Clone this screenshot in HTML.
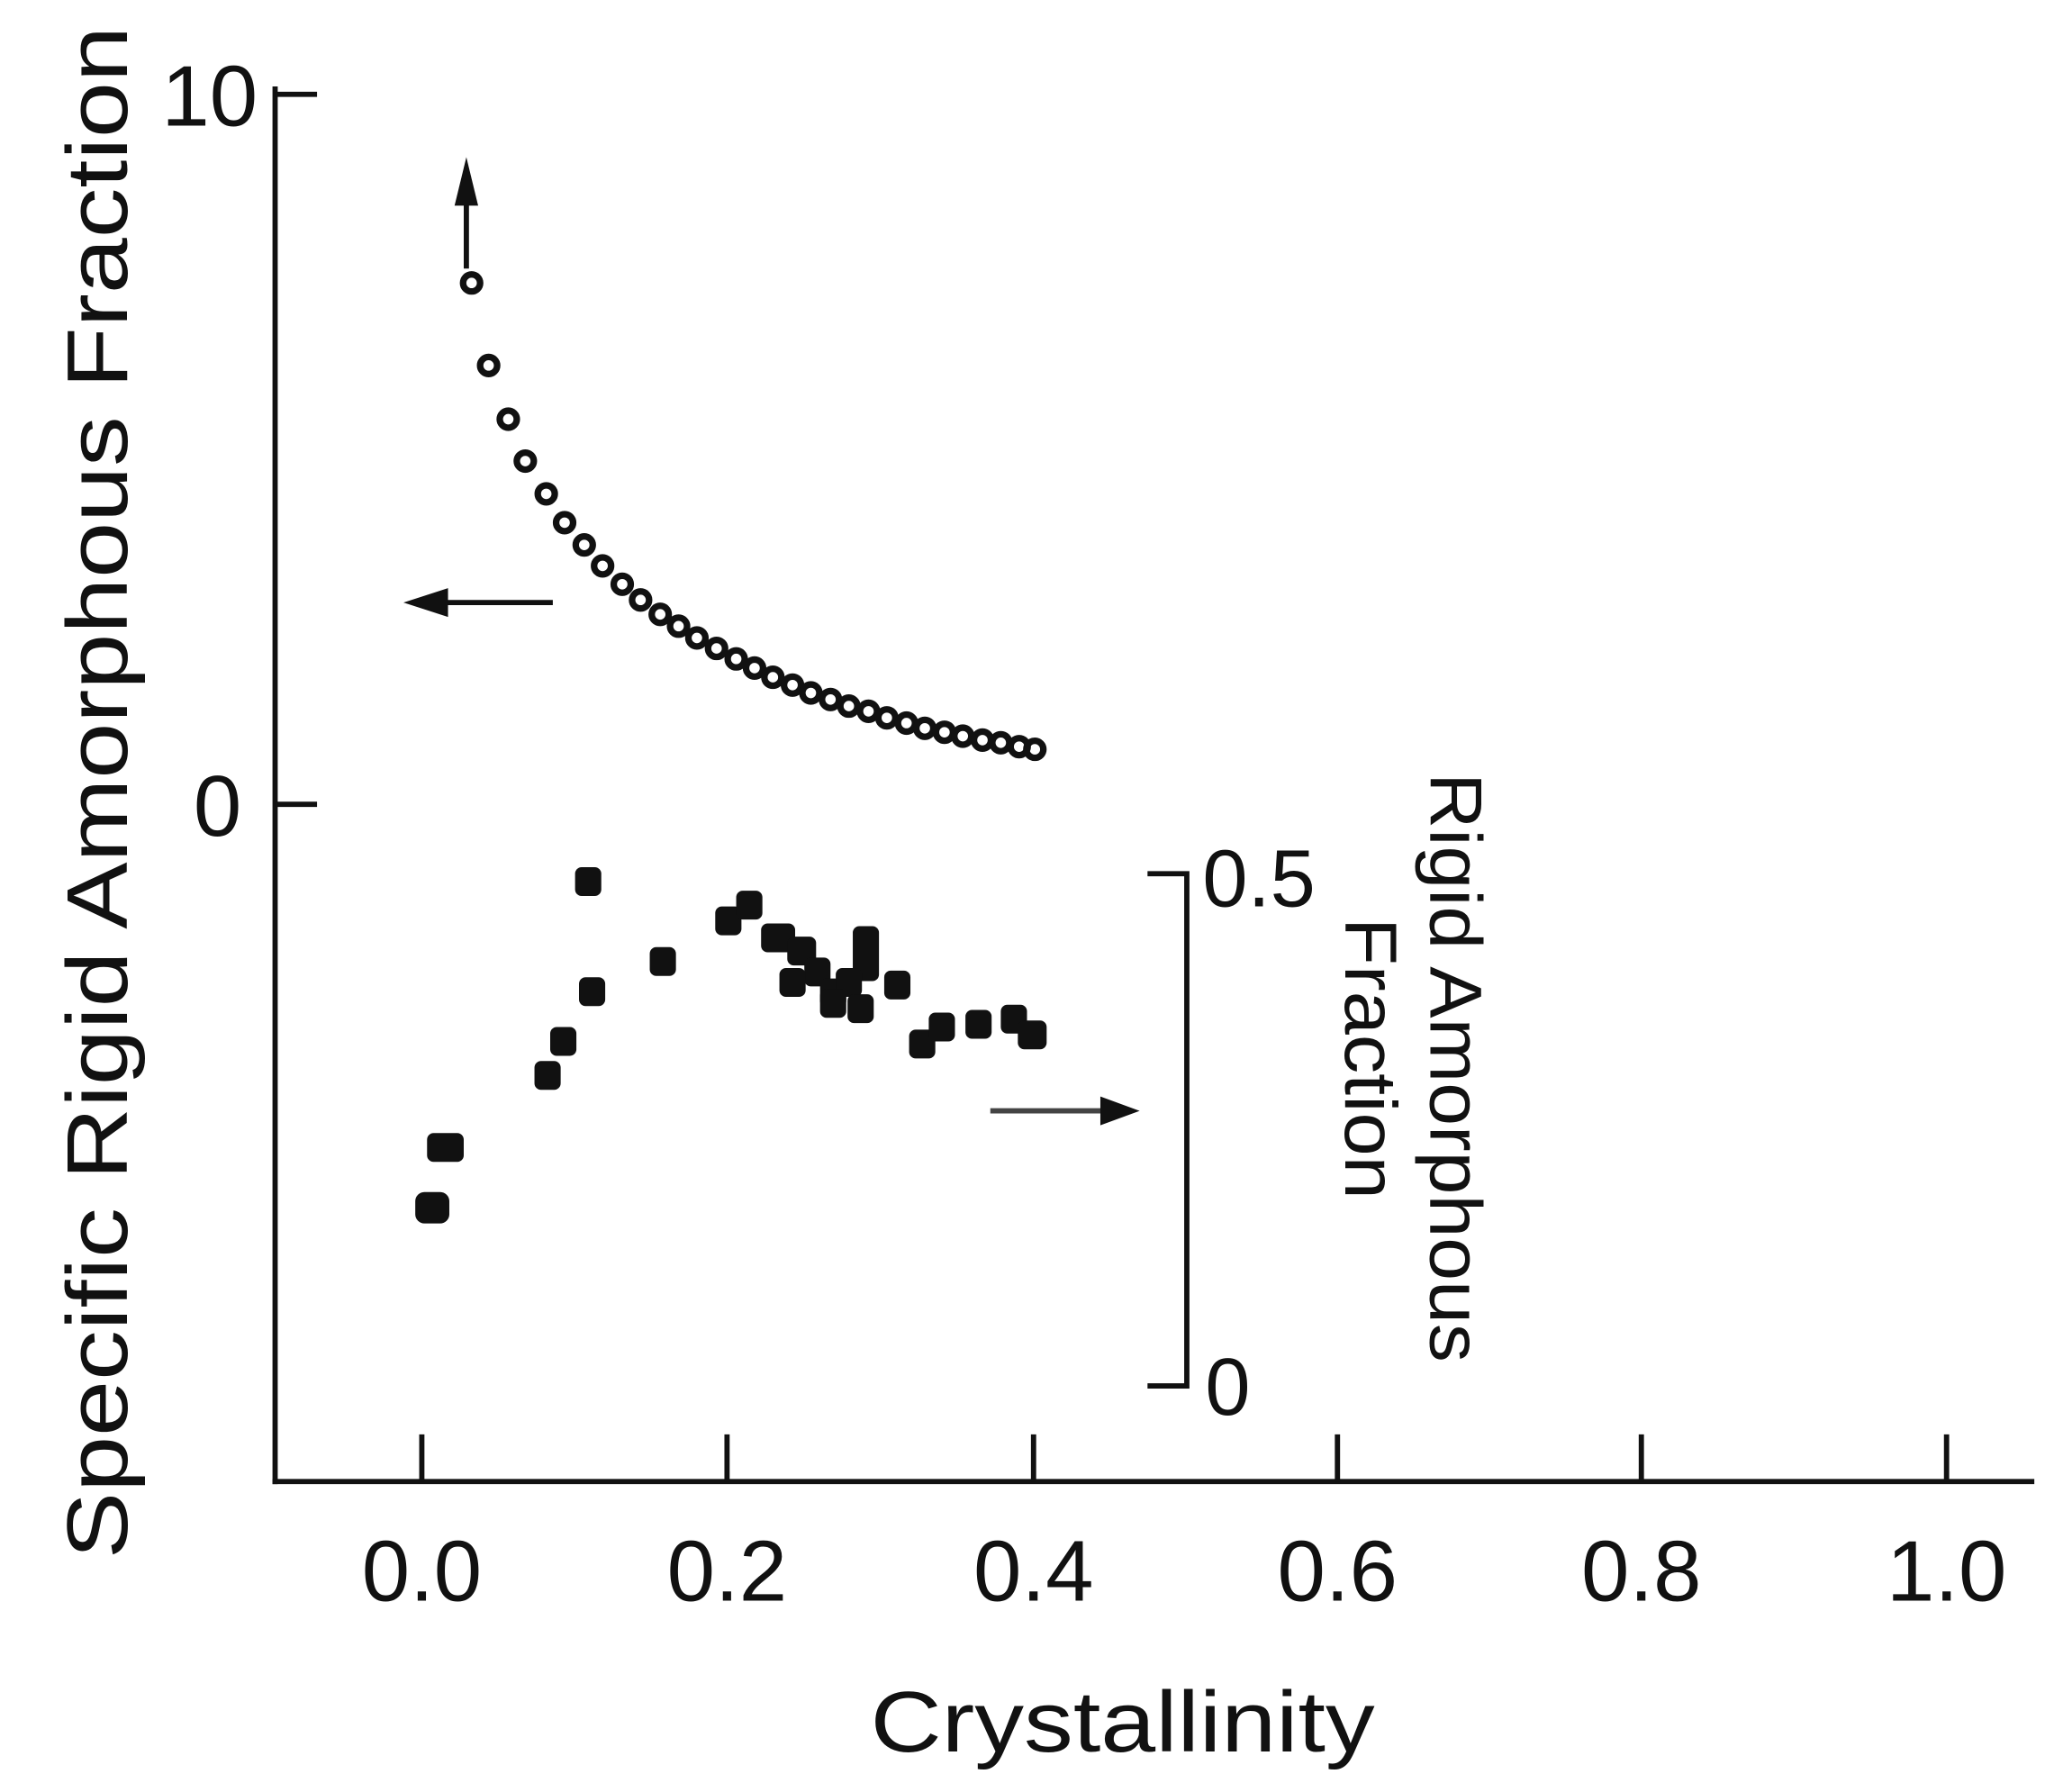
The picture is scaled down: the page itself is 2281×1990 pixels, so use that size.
<!DOCTYPE html>
<html><head><meta charset="utf-8"><style>html,body{margin:0;padding:0;background:#fff}svg{display:block}</style></head>
<body>
<svg width="2281" height="1990" viewBox="0 0 1568 1368" xmlns="http://www.w3.org/2000/svg" font-family="Liberation Sans, sans-serif" fill="#111">
<g stroke="#111" stroke-width="4" fill="none">
<line x1="210" y1="66" x2="210" y2="1133"/>
<line x1="208" y1="1131" x2="1553" y2="1131"/>
<line x1="210" y1="72" x2="242" y2="72"/>
<line x1="210" y1="614" x2="242" y2="614"/>
<line x1="322" y1="1095" x2="322" y2="1131"/>
<line x1="555" y1="1095" x2="555" y2="1131"/>
<line x1="789" y1="1095" x2="789" y2="1131"/>
<line x1="1021" y1="1095" x2="1021" y2="1131"/>
<line x1="1253" y1="1095" x2="1253" y2="1131"/>
<line x1="1486" y1="1095" x2="1486" y2="1131"/>
<polyline points="876,667 906,667 906,1058 876,1058"/>
<line x1="356" y1="205" x2="356" y2="140"/>
<line x1="422" y1="460" x2="335" y2="460"/>
<line x1="756" y1="848" x2="845" y2="848" stroke="#444"/>
</g>
<polygon points="356,120 347,157 365,157"/>
<polygon points="308,460 342,449 342,471"/>
<polygon points="870,848 840,837 840,859"/>
<g font-size="66" text-anchor="middle">
<text x="160" y="96">10</text>
<text x="166" y="638">0</text>
<text x="322" y="1222">0.0</text>
<text x="555" y="1222">0.2</text>
<text x="789" y="1222">0.4</text>
<text x="1021" y="1222">0.6</text>
<text x="1253" y="1222">0.8</text>
<text x="1486" y="1222">1.0</text>
<text x="857" y="1337" textLength="385" lengthAdjust="spacingAndGlyphs">Crystallinity</text>
<text transform="translate(97,605) rotate(-90)" textLength="1170" lengthAdjust="spacingAndGlyphs">Specific Rigid Amorphous Fraction</text>
</g>
<g font-size="62">
<text x="918" y="692">0.5</text>
<text x="920" y="1080">0</text>
</g>
<g font-size="56" text-anchor="middle">
<text transform="translate(1092,815) rotate(90)" textLength="450" lengthAdjust="spacingAndGlyphs">Rigid Amorphous</text>
<text transform="translate(1027,808) rotate(90)" textLength="215" lengthAdjust="spacingAndGlyphs">Fraction</text>
</g>
<g fill="none" stroke="#111" stroke-width="5">
<circle cx="360" cy="216" r="6.5"/><circle cx="373" cy="279" r="6.5"/><circle cx="388" cy="320" r="6.5"/><circle cx="401" cy="352" r="6.5"/><circle cx="417" cy="377" r="6.5"/><circle cx="431" cy="399" r="6.5"/><circle cx="446" cy="416" r="6.5"/><circle cx="460" cy="432" r="6.5"/><circle cx="475" cy="446" r="6.5"/><circle cx="489" cy="458" r="6.5"/><circle cx="504" cy="469" r="6.5"/><circle cx="518" cy="478" r="6.5"/><circle cx="532" cy="487" r="6.5"/><circle cx="547" cy="495" r="6.5"/><circle cx="562" cy="503" r="6.5"/><circle cx="576" cy="510" r="6.5"/><circle cx="590" cy="517" r="6.5"/><circle cx="605" cy="523" r="6.5"/><circle cx="619" cy="529" r="6.5"/><circle cx="634" cy="534" r="6.5"/><circle cx="648" cy="539" r="6.5"/><circle cx="663" cy="543" r="6.5"/><circle cx="677" cy="548" r="6.5"/><circle cx="692" cy="552" r="6.5"/><circle cx="706" cy="556" r="6.5"/><circle cx="721" cy="559" r="6.5"/><circle cx="735" cy="562" r="6.5"/><circle cx="750" cy="565" r="6.5"/><circle cx="764" cy="567" r="6.5"/><circle cx="778" cy="570" r="6.5"/><circle cx="790" cy="572" r="6.5"/>
</g>
<g>
<rect x="439" y="662" width="20" height="22" rx="5"/><rect x="496" y="723" width="20" height="22" rx="5"/><rect x="442" y="746" width="20" height="22" rx="5"/><rect x="420" y="784" width="20" height="22" rx="5"/><rect x="408" y="810" width="20" height="22" rx="5"/><rect x="326" y="865" width="28" height="22" rx="5"/><rect x="317" y="910" width="26" height="24" rx="7"/><rect x="546" y="692" width="20" height="22" rx="5"/><rect x="562" y="680" width="20" height="22" rx="5"/><rect x="581" y="705" width="26" height="22" rx="5"/><rect x="601" y="715" width="22" height="22" rx="5"/><rect x="614" y="731" width="20" height="22" rx="5"/><rect x="626" y="747" width="20" height="22" rx="5"/><rect x="651" y="707" width="20" height="42" rx="5"/><rect x="638" y="739" width="20" height="22" rx="5"/><rect x="647" y="759" width="20" height="22" rx="5"/><rect x="675" y="741" width="20" height="22" rx="5"/><rect x="694" y="786" width="20" height="22" rx="5"/><rect x="709" y="773" width="20" height="22" rx="5"/><rect x="737" y="771" width="20" height="22" rx="5"/><rect x="764" y="767" width="20" height="22" rx="5"/><rect x="777" y="779" width="22" height="22" rx="5"/><rect x="595" y="739" width="20" height="22" rx="5"/><rect x="626" y="755" width="20" height="22" rx="5"/>
</g>
</svg>
</body></html>
